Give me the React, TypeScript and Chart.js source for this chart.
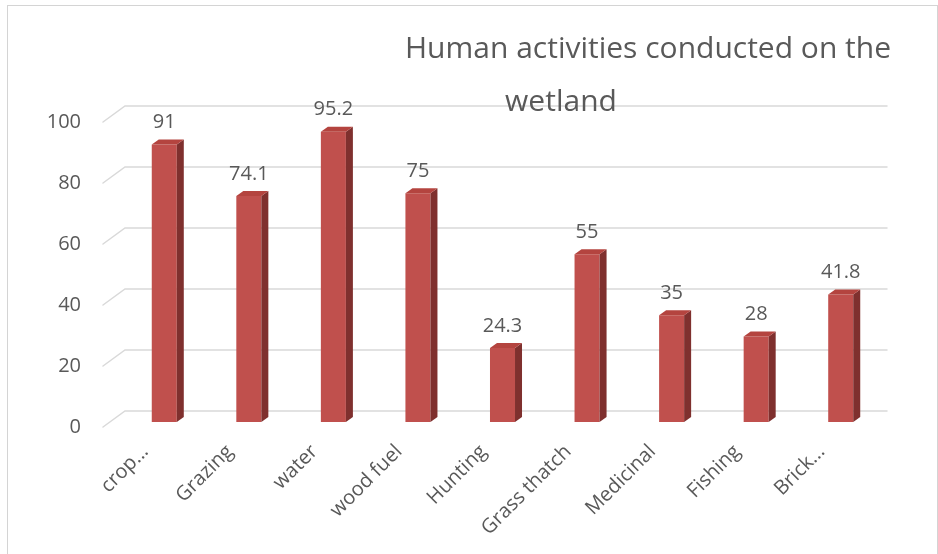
import React, { useEffect, useRef } from "react";
import { Chart, registerables } from "chart.js";

Chart.register(...registerables);

// Share of respondents (%) reporting each activity on the wetland
const categories = [
  "crop...",
  "Grazing",
  "water",
  "wood fuel",
  "Hunting",
  "Grass thatch",
  "Medicinal",
  "Fishing",
  "Brick...",
];
const percentages = [91, 74.1, 95.2, 75, 24.3, 55, 35, 28, 41.8];
const yTickValues = [0, 20, 40, 60, 80, 100];
const titleLines = ["Human activities conducted on the", "wetland"];

const FONT = "'Open Sans', 'Noto Sans', sans-serif";
const TEXT = "#595959";
const GRID = "#d9d9d9";
const FRONT = "#c0504d";
const SIDE = "#7f302e";
const TOP = "#b4443f";

// pseudo-3D geometry
const BAR_DX = 7; // bar depth, horizontal
const BAR_DY = 5; // bar depth, vertical
const BAR_LIFT = 5; // bars stand a little behind the floor's front edge
const WALL_FRONT_X = -19; // front end of the floor diagonal, relative to chartArea.left
const WALL_BACK_X = 3; // where the back wall starts, relative to chartArea.left
const WALL_RIGHT_X = 4; // back wall overhang past chartArea.right
const WALL_DY = 16; // back wall is raised by this much

const threeD = {
  id: "threeD",
  beforeDatasetsDraw(chart: any) {
    const { ctx, chartArea, scales } = chart;
    const y = scales.y;
    ctx.save();
    ctx.strokeStyle = GRID;
    ctx.lineWidth = 1.5;
    ctx.lineCap = "round";
    for (const t of y.ticks) {
      const py = y.getPixelForValue(t.value);
      ctx.beginPath();
      ctx.moveTo(chartArea.left + WALL_FRONT_X, py);
      ctx.lineTo(chartArea.left + WALL_BACK_X, py - WALL_DY);
      ctx.lineTo(chartArea.right + WALL_RIGHT_X, py - WALL_DY);
      ctx.stroke();
    }
    ctx.restore();
    ctx.save();
    ctx.translate(0, -BAR_LIFT);
  },
  afterDatasetsDraw(chart: any) {
    const { ctx } = chart;
    const meta = chart.getDatasetMeta(0);
    for (const el of meta.data) {
      const { x, y, base, width } = el.getProps(["x", "y", "base", "width"], true);
      const l = x - width / 2;
      const r = x + width / 2;
      // side face
      ctx.fillStyle = SIDE;
      ctx.beginPath();
      ctx.moveTo(r, y);
      ctx.lineTo(r + BAR_DX, y - BAR_DY);
      ctx.lineTo(r + BAR_DX, base - BAR_DY);
      ctx.lineTo(r, base);
      ctx.closePath();
      ctx.fill();
      // top face
      ctx.fillStyle = TOP;
      ctx.beginPath();
      ctx.moveTo(l, y);
      ctx.lineTo(l + BAR_DX, y - BAR_DY);
      ctx.lineTo(r + BAR_DX, y - BAR_DY);
      ctx.lineTo(r, y);
      ctx.closePath();
      ctx.fill();
    }
    ctx.restore();

    // value labels
    ctx.save();
    ctx.fillStyle = TEXT;
    ctx.font = `20px ${FONT}`;
    ctx.textAlign = "center";
    ctx.textBaseline = "middle";
    meta.data.forEach((el: any, i: number) => {
      const { x, y } = el.getProps(["x", "y"], true);
      ctx.fillText(String(percentages[i]), x, y - BAR_LIFT - 22);
    });
    ctx.restore();
  },
  afterDraw(chart: any) {
    const { ctx } = chart;
    ctx.save();
    ctx.fillStyle = TEXT;
    ctx.font = `30px ${FONT}`;
    ctx.textAlign = "center";
    ctx.textBaseline = "alphabetic";
    ctx.fillText(titleLines[0], 648, 58);
    ctx.fillText(titleLines[1], 561, 111);
    ctx.restore();
  },
};

export default function App() {
  const canvasRef = useRef<HTMLCanvasElement | null>(null);

  useEffect(() => {
    const canvas = canvasRef.current;
    if (!canvas) return;
    const chart = new Chart(canvas, {
      type: "bar",
      data: {
        labels: categories,
        datasets: [
          {
            data: percentages,
            backgroundColor: FRONT,
            borderWidth: 0,
            categoryPercentage: 1,
            barPercentage: 0.296,
          },
        ],
      },
      options: {
        responsive: false,
        animation: false,
        devicePixelRatio: 1,
        layout: { padding: { top: 122, right: 55, bottom: 0, left: 0 } },
        plugins: {
          legend: { display: false },
          title: { display: false },
          tooltip: { enabled: false },
        },
        scales: {
          x: {
            grid: { display: false },
            border: { display: false },
            ticks: {
              autoSkip: false,
              maxRotation: 45,
              minRotation: 45,
              padding: 5,
              labelOffset: -19,
              color: TEXT,
              font: { family: FONT, size: 20 },
            },
            afterFit(scale: any) {
              scale.height = 127;
            },
          },
          y: {
            min: 0,
            max: 100,
            grid: { display: false, drawTicks: false },
            border: { display: false },
            afterBuildTicks(scale: any) {
              scale.ticks = yTickValues.map((v) => ({ value: v }));
            },
            ticks: {
              padding: 41,
              color: TEXT,
              font: { family: FONT, size: 20 },
            },
            afterFit(scale: any) {
              scale.width = 122;
            },
          },
        },
      },
      plugins: [threeD],
    });
    return () => chart.destroy();
  }, []);

  return (
    <div
      style={{
        position: "fixed",
        left: 0,
        top: 0,
        width: 938,
        height: 554,
        overflow: "hidden",
        background: "#ffffff",
      }}
    >
      <div
        style={{
          position: "absolute",
          left: 7,
          top: 5,
          width: 931,
          height: 620,
          boxSizing: "border-box",
          border: `1px solid #d4d4d4`,
        }}
      />
      <canvas
        ref={canvasRef}
        width={938}
        height={554}
        style={{ position: "absolute", left: 0, top: 0, width: 938, height: 554 }}
      />
    </div>
  );
}
